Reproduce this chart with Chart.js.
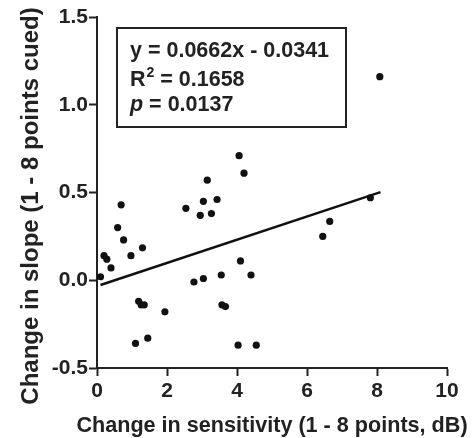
<!DOCTYPE html>
<html>
<head>
<meta charset="utf-8">
<script src="https://cdn.jsdelivr.net/npm/chart.js@4/dist/chart.umd.min.js"></script>
<style>
    html, body { margin: 0; padding: 0; background: #fff; }
    #wrap { width: 473px; height: 438px; }
</style>
</head>
<body>
<div id="wrap"><canvas id="scatterChart" width="473" height="438"></canvas></div>
<script>
// values
const sensitivityChange = [0.1, 0.2, 0.28, 0.4, 0.59, 0.69, 0.76, 0.97, 1.3, 1.19, 1.26, 1.35,
    1.1, 1.45, 1.94, 2.54, 2.77, 2.95, 3.04, 3.04, 3.15, 3.27, 3.43, 3.55, 3.57, 3.67,
    4.03, 4.1, 4.4, 4.55, 6.45, 6.65, 7.81, 8.08, 4.06, 4.2];
const slopeChange = [0.02, 0.14, 0.12, 0.07, 0.30, 0.43, 0.23, 0.14, 0.185, -0.12, -0.14, -0.14,
    -0.36, -0.33, -0.18, 0.41, -0.01, 0.37, 0.45, 0.01, 0.57, 0.38, 0.46, 0.03, -0.14, -0.15,
    -0.37, 0.11, 0.03, -0.37, 0.25, 0.335, 0.47, 1.16, 0.71, 0.61];
const fitX = [0.1, 8.1];
const fitY = [-0.027, 0.502];
const xTicks = [0, 2, 4, 6, 8, 10];
const yTicks = [-0.5, 0, 0.5, 1.0, 1.5];
const statsLines = ['y = 0.0662x - 0.0341', '0.1658', '0.0137'];
const xTitle = 'Change in sensitivity (1 - 8 points, dB)';
const yTitle = 'Change in slope (1 - 8 points cued)';

const FONT = '"Liberation Sans", Arial, Helvetica, sans-serif';

// boxed regression stats + axis titles (Chart.js squeezes titles to the axis length,
// the original ones run past the plot, so draw them here)
const statsBox = {
    id: 'statsBox',
    afterDraw(chart) {
        const ctx = chart.ctx;
        const left = chart.chartArea.left + 20;
        const top = chart.chartArea.top + 11;
        ctx.save();
        ctx.strokeStyle = '#222';
        ctx.lineWidth = 2;
        ctx.strokeRect(left, top, 229, 99);

        ctx.fillStyle = '#222';
        ctx.textBaseline = 'alphabetic';
        ctx.textAlign = 'left';
        const tx = left + 13;

        ctx.font = 'bold 21.5px ' + FONT;
        ctx.fillText(statsLines[0], tx, top + 29);

        // R² line
        ctx.fillText('R', tx, top + 58);
        let w = ctx.measureText('R').width;
        ctx.font = 'bold 14px ' + FONT;
        ctx.fillText('2', tx + w + 1, top + 49);
        w += ctx.measureText('2').width + 1;
        ctx.font = 'bold 21.5px ' + FONT;
        ctx.fillText(' = ' + statsLines[1], tx + w, top + 58);

        // p line
        ctx.font = 'italic bold 21.5px ' + FONT;
        ctx.fillText('p', tx, top + 83);
        w = ctx.measureText('p').width;
        ctx.font = 'bold 21.5px ' + FONT;
        ctx.fillText(' = ' + statsLines[2], tx + w, top + 83);

        // x title
        ctx.textAlign = 'center';
        ctx.font = 'bold 21.6px ' + FONT;
        ctx.fillText(xTitle, 272, 432);

        // y title
        ctx.translate(31, 206);
        ctx.rotate(-Math.PI / 2);
        ctx.textBaseline = 'middle';
        ctx.font = 'bold 24px ' + FONT;
        ctx.fillText(yTitle, 0, 0);
        ctx.restore();
    }
};

const points = sensitivityChange.map((x, i) => ({ x: x, y: slopeChange[i] }));
const fitLine = fitX.map((x, i) => ({ x: x, y: fitY[i] }));

const ctx = document.getElementById('scatterChart').getContext('2d');
new Chart(ctx, {
    type: 'scatter',
    data: {
        datasets: [{
            data: points,
            backgroundColor: '#111',
            borderWidth: 0,
            pointRadius: 3.6
        }, {
            type: 'line',
            data: fitLine,
            borderColor: '#111',
            borderWidth: 2.5,
            pointRadius: 0,
            fill: false
        }]
    },
    options: {
        responsive: false,
        animation: false,
        layout: { padding: { top: 17, right: 26, left: 0, bottom: 0 } },
        plugins: {
            legend: { display: false },
            tooltip: { enabled: false }
        },
        scales: {
            x: {
                type: 'linear',
                min: 0,
                max: 10,
                afterBuildTicks: axis => { axis.ticks = xTicks.map(v => ({ value: v })); },
                afterFit: axis => { axis.height = 70; },
                border: { color: '#222', width: 2 },
                grid: { drawOnChartArea: false, drawTicks: true, tickLength: 8, tickColor: '#222', tickWidth: 2 },
                ticks: {
                    color: '#222',
                    padding: 3,
                    maxRotation: 0,
                    font: { family: FONT, size: 21, weight: 'bold' }
                },
                title: { display: false }
            },
            y: {
                type: 'linear',
                min: -0.5,
                max: 1.5,
                afterBuildTicks: axis => { axis.ticks = yTicks.map(v => ({ value: v })); },
                afterFit: axis => { axis.width = 97; },
                border: { color: '#222', width: 2 },
                grid: { drawOnChartArea: false, drawTicks: true, tickLength: 8, tickColor: '#222', tickWidth: 2 },
                ticks: {
                    color: '#222',
                    padding: 1,
                    font: { family: FONT, size: 21, weight: 'bold' },
                    callback: v => v.toFixed(1)
                },
                title: { display: false }
            }
        }
    },
    plugins: [statsBox]
});
</script>
</body>
</html>
